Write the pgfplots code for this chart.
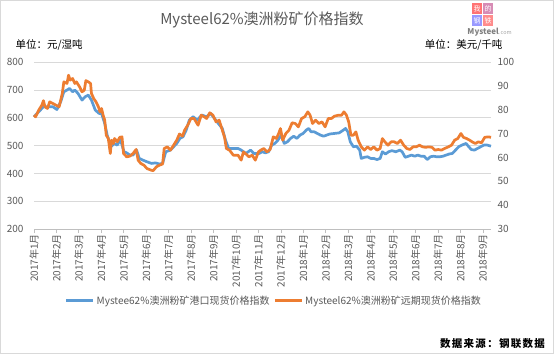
\documentclass[border=0pt]{standalone}
\usepackage{pgfplots}
\pgfplotsset{compat=1.18}
\usepackage{fontspec}
\setmainfont{Noto Sans CJK SC}
\newfontfamily\srcfont[LetterSpace=12]{Noto Sans CJK SC}
\definecolor{sblue}{HTML}{5B9BD5}
\definecolor{sorange}{HTML}{ED7D31}
\definecolor{gridgray}{HTML}{D9D9D9}
\definecolor{tickgray}{HTML}{595959}
\definecolor{axgray}{HTML}{BFBFBF}
\begin{document}
\begin{tikzpicture}[x=1pt,y=1pt]
\useasboundingbox (0,0) rectangle (554,354);
\fill[white] (0,0) rectangle (554,354);
\draw[color=gridgray, line width=1pt] (0.5,0.5) rectangle (553.5,353.5);
% title and units
\node[font=\fontsize{15}{17}\selectfont, color=tickgray] at (262,334) {Mysteel62\%澳洲粉矿价格指数};
\node[font=\fontsize{10.5}{12}\selectfont, anchor=west] at (12,309) {单位：元/湿吨};
\node[font=\fontsize{10.5}{12}\selectfont, anchor=east] at (506,309) {单位：美元/千吨};
% logo
\fill[red!55!white] (472,340) rectangle (482,351);
\fill[blue!35!red!45!white] (483,340) rectangle (493,351);
\fill[blue!40!white] (472,328) rectangle (482,339);
\fill[red!45!white] (483,328) rectangle (493,339);
\node[font=\fontsize{7}{8}\selectfont, white] at (477,345.5) {我};
\node[font=\fontsize{7}{8}\selectfont, white] at (488,345.5) {的};
\node[font=\fontsize{7}{8}\selectfont, white] at (477,333.5) {钢};
\node[font=\fontsize{7}{8}\selectfont, white] at (488,333.5) {铁};
\node[font=\fontsize{8}{9}\selectfont\bfseries, color=gray, anchor=east, inner sep=0pt] at (499,322) {Mysteel};
\node[font=\fontsize{5.5}{6}\selectfont, color=gray!70, anchor=west, inner sep=0pt] at (499,321) {.com};
% source
\node[font=\fontsize{10.5}{12}\srcfont\bfseries, anchor=east, inner sep=0pt] at (545,10) {数据来源：钢联数据};
\begin{axis}[
  at={(34pt,125pt)}, anchor=south west,
  scale only axis, width=457pt, height=166.7pt,
  xmin=0, xmax=20.36, ymin=200, ymax=800,
  ytick={200,300,...,800},
  xtick={0,...,20},
  xticklabels={2017年1月,2017年2月,2017年3月,2017年4月,2017年5月,2017年6月,2017年7月,2017年8月,2017年9月,2017年10月,2017年11月,2017年12月,2018年1月,2018年2月,2018年3月,2018年4月,2018年5月,2018年6月,2018年7月,2018年8月,2018年9月},
  axis x line*=bottom, axis y line*=left,
  x axis line style={color=axgray, line width=0.8pt, -},
  y axis line style={draw=none},
  ymajorgrids, grid style={color=gridgray, line width=0.8pt},
  ytick style={draw=none},
  xtick style={color=axgray, line width=0.8pt},
  major tick length=4pt,
  tick align=outside,
  /pgf/number format/assume math mode=true,
  yticklabel style={font=\fontsize{10}{12}\selectfont, color=tickgray, xshift=-3pt},
  xticklabel style={font=\fontsize{10}{12}\selectfont, color=tickgray, rotate=90, anchor=east, inner sep=1pt},
  clip=false
]
\addplot[color=sblue, line width=2.7pt, line join=round] coordinates {
(0,604)(0.21,622)(0.42,640)(0.63,640)(0.84,640)(1.02,630)(1.19,658)(1.33,694)(1.47,700)(1.58,706)(1.72,694)(1.82,700)(1.96,688)(2.14,664)(2.28,676)(2.42,682)(2.56,664)(2.73,628)(2.90,616)(3.01,616)(3.15,580)(3.26,538)(3.43,496)(3.57,508)(3.71,502)(3.85,522)(4.01,478)(4.13,474)(4.27,466)(4.41,466)(4.57,484)(4.69,454)(4.85,448)(5.03,442)(5.24,436)(5.41,438)(5.59,434)(5.73,436)(5.87,478)(6.08,484)(6.22,496)(6.36,508)(6.50,526)(6.64,532)(6.78,556)(6.92,592)(7.09,604)(7.27,592)(7.48,610)(7.69,604)(7.87,616)(8.04,598)(8.21,580)(8.39,562)(8.53,520)(8.67,490)(8.88,490)(9.09,490)(9.23,484)(9.44,472)(9.65,484)(9.79,472)(10.03,472)(10.17,478)(10.31,474)(10.45,478)(10.59,502)(10.73,508)(10.87,520)(11.01,538)(11.15,508)(11.29,514)(11.43,526)(11.57,534)(11.71,526)(11.85,538)(11.99,544)(12.13,556)(12.24,562)(12.34,550)(12.48,550)(12.62,544)(12.76,538)(12.90,534)(13.04,538)(13.18,542)(13.39,544)(13.60,546)(13.78,556)(13.88,562)(13.98,550)(14.09,514)(14.23,496)(14.37,498)(14.51,484)(14.58,454)(14.72,458)(14.86,460)(15.00,454)(15.14,454)(15.28,450)(15.42,454)(15.52,478)(15.66,470)(15.80,478)(15.94,482)(16.12,478)(16.30,484)(16.40,478)(16.54,458)(16.68,462)(16.82,466)(16.96,462)(17.10,466)(17.24,462)(17.38,462)(17.52,450)(17.66,460)(17.80,462)(17.94,460)(18.08,460)(18.22,462)(18.36,466)(18.50,470)(18.64,472)(18.78,484)(18.92,496)(19.06,502)(19.25,508)(19.35,498)(19.48,486)(19.62,484)(19.76,490)(19.90,496)(20.04,502)(20.20,502)(20.36,498)
};
\end{axis}
\begin{axis}[
  at={(34pt,125pt)}, anchor=south west,
  scale only axis, width=457pt, height=166.7pt,
  xmin=0, xmax=20.36, ymin=30, ymax=100,
  ytick={30,40,...,100},
  axis x line=none, axis y line*=right,
  y axis line style={draw=none},
  ytick style={draw=none},
  /pgf/number format/assume math mode=true,
  yticklabel style={font=\fontsize{10}{12}\selectfont, color=tickgray, xshift=3pt},
  legend columns=2,
  legend style={draw=none, fill=none, at={(axis description cs:0.525,-0.43)}, anchor=center, font=\fontsize{10}{12}\selectfont, text=tickgray, /tikz/every even column/.append style={column sep=2pt}},
  legend image code/.code={\draw[#1, line width=2.7pt] (0pt,0pt) -- (27pt,0pt);},
  clip=false
]
\addlegendimage{color=sblue, line width=2.7pt}
\addlegendentry{Mystee62\%澳洲粉矿港口现货价格指数}
\addplot[color=sorange, line width=2.7pt, line join=round] coordinates {
(0,77.8)(0.07,77.1)(0.21,79.9)(0.35,82.0)(0.42,83.9)(0.49,81.3)(0.60,80.6)(0.70,83.4)(0.84,82.7)(0.98,82.0)(1.12,81.3)(1.26,86.9)(1.33,91.8)(1.47,91.1)(1.54,94.6)(1.61,92.5)(1.72,93.2)(1.82,91.1)(1.89,91.8)(2.03,89.7)(2.14,87.6)(2.24,88.3)(2.31,92.3)(2.42,91.8)(2.52,91.1)(2.56,86.9)(2.66,84.8)(2.76,83.4)(2.87,81.3)(2.94,79.2)(3.01,80.6)(3.08,77.8)(3.15,75.7)(3.22,69.4)(3.31,68.0)(3.40,61.7)(3.45,67.3)(3.54,65.9)(3.59,68.0)(3.71,66.6)(3.82,68.5)(3.92,68.7)(3.99,61.7)(4.13,60.3)(4.27,60.6)(4.41,61.7)(4.55,63.4)(4.64,58.9)(4.76,57.5)(4.90,56.8)(5.03,55.4)(5.22,54.7)(5.31,54.5)(5.45,56.1)(5.59,56.8)(5.73,57.3)(5.80,63.8)(5.94,64.5)(6.08,63.1)(6.22,65.2)(6.36,67.3)(6.48,69.9)(6.62,69.0)(6.71,71.5)(6.85,73.6)(6.99,76.4)(7.13,76.4)(7.31,73.6)(7.45,77.8)(7.59,77.1)(7.69,76.4)(7.83,78.8)(7.97,77.8)(8.11,75.0)(8.25,75.7)(8.39,71.5)(8.49,68.5)(8.57,63.8)(8.71,63.1)(8.88,61.0)(9.09,61.0)(9.23,58.9)(9.33,62.4)(9.44,61.5)(9.58,60.3)(9.72,61.0)(9.86,58.9)(10.0,62.4)(10.10,63.1)(10.24,63.8)(10.38,62.4)(10.52,63.4)(10.66,68.7)(10.80,68.0)(10.90,70.1)(10.98,72.2)(11.08,67.3)(11.22,70.1)(11.36,71.5)(11.50,74.6)(11.64,74.3)(11.78,72.9)(11.92,76.4)(12.06,77.1)(12.20,79.2)(12.30,77.8)(12.41,74.3)(12.55,75.7)(12.69,74.3)(12.83,75.0)(12.97,72.9)(13.11,76.4)(13.25,76.4)(13.39,77.4)(13.56,77.8)(13.70,77.8)(13.81,79.2)(13.92,77.8)(14.02,75.0)(14.12,69.4)(14.23,69.4)(14.34,70.8)(14.44,67.3)(14.58,64.5)(14.72,63.1)(14.86,64.5)(15.00,63.4)(15.14,64.5)(15.28,63.1)(15.42,63.8)(15.52,68.0)(15.63,66.6)(15.77,65.2)(15.91,66.6)(16.05,66.6)(16.19,65.9)(16.33,67.3)(16.47,65.2)(16.61,63.8)(16.75,63.4)(16.89,64.5)(17.03,64.5)(17.17,65.2)(17.31,64.5)(17.45,64.3)(17.59,64.5)(17.73,64.3)(17.87,63.1)(18.01,63.4)(18.15,63.1)(18.29,63.8)(18.46,64.5)(18.60,65.2)(18.74,67.3)(18.88,68.0)(19.02,70.1)(19.13,68.5)(19.27,68.0)(19.41,67.3)(19.52,66.6)(19.66,65.9)(19.80,66.6)(19.94,66.2)(20.08,68.5)(20.25,68.7)(20.36,68.5)
};
\addlegendentry{Mysteel62\%澳洲粉矿远期现货价格指数}
\end{axis}
\end{tikzpicture}
\end{document}
